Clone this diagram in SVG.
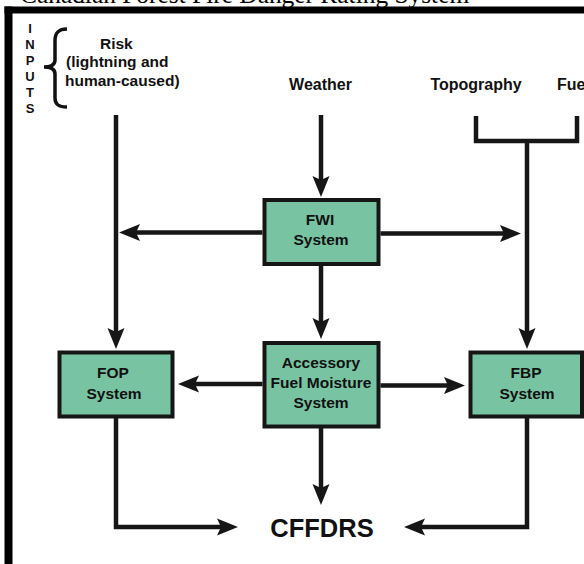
<svg xmlns="http://www.w3.org/2000/svg" width="584" height="564" viewBox="0 0 584 564">
<defs>
<style>
.t{font-family:"Liberation Sans",Arial,sans-serif;font-weight:bold;fill:#111;}
.in{font-size:15.5px;}
.hd{font-size:16px;}
.bx{font-size:15.5px;text-anchor:middle;}
.box{fill:#78C4A2;stroke:#161616;stroke-width:4;}
.ln{fill:none;stroke:#161616;stroke-width:4.5;}
.ar{marker-end:url(#ah);}
</style>
<marker id="ah" markerUnits="userSpaceOnUse" markerWidth="21" markerHeight="17" refX="11" refY="8.5" orient="auto" overflow="visible">
<path d="M21,8.5 L0,0 L4,8.5 L0,17 Z" fill="#161616"/>
</marker>
</defs>
<rect width="584" height="564" fill="#fff"/>
<text x="20" y="3" font-family="'Liberation Serif','Times New Roman',serif" font-size="25.4" fill="#000">Canadian Forest Fire Danger Rating System</text>
<g id="frame">
<rect x="4.5" y="6.5" width="579.5" height="7" fill="#000"/>
<rect x="4.5" y="6.5" width="8" height="557.5" fill="#000"/>
</g>
<g id="inputs">
<g class="t" font-size="13" text-anchor="middle">
<text x="30" y="33">I</text>
<text x="30" y="49">N</text>
<text x="30" y="65">P</text>
<text x="30" y="81">U</text>
<text x="30" y="97">T</text>
<text x="30" y="113">S</text>
</g>
<path d="M67,29 C58,29 55,33 55,41 L55,60 C55,64 52,67 44,67 C52,67 55,70 55,74 L55,98 C55,104 58,107 67,107" fill="none" stroke="#111" stroke-width="3.5"/>
</g>
<g id="risk">
<text class="t in" x="100" y="49">Risk</text>
<text class="t in" x="66" y="67">(lightning and</text>
<text class="t in" x="65" y="86">human-caused)</text>
</g>
<g id="weather"><text class="t hd" x="320.5" y="90" text-anchor="middle">Weather</text></g>
<g id="topography"><text class="t hd" x="476" y="90" text-anchor="middle">Topography</text></g>
<g id="fuel"><text class="t hd" x="557" y="90">Fue</text></g>
<g id="fwi">
<rect class="box" x="264.5" y="200" width="114" height="64"/>
<text class="t bx" x="320" y="225">FWI</text>
<text class="t bx" x="321" y="245">System</text>
</g>
<g id="afm">
<rect class="box" x="264.5" y="343" width="114" height="83.5"/>
<text class="t bx" x="321" y="368">Accessory</text>
<text class="t bx" x="321" y="388">Fuel Moisture</text>
<text class="t bx" x="321" y="408">System</text>
</g>
<g id="fop">
<rect class="box" x="59.5" y="352.5" width="113" height="64"/>
<text class="t bx" x="113" y="378">FOP</text>
<text class="t bx" x="114" y="399">System</text>
</g>
<g id="fbp">
<rect class="box" x="470.5" y="352.5" width="111.5" height="64"/>
<text class="t bx" x="526" y="378">FBP</text>
<text class="t bx" x="527" y="399">System</text>
</g>
<g id="cffdrs"><text class="t" x="322" y="536.5" font-size="25.5" text-anchor="middle">CFFDRS</text></g>
<g id="connectors">
<path class="ln" d="M476,116 V141 H577 V116"/>
<path class="ln ar" d="M116,115 V339"/>
<path class="ln ar" d="M321,115 V187"/>
<path class="ln ar" d="M527,141 V339"/>
<path class="ln ar" d="M262.5,232.5 H129"/>
<path class="ln ar" d="M380.5,233.5 H511"/>
<path class="ln ar" d="M321,266 V329"/>
<path class="ln ar" d="M262.5,384 H188"/>
<path class="ln ar" d="M380.5,385.5 H455"/>
<path class="ln ar" d="M116,418 V527 H228"/>
<path class="ln ar" d="M321,428 V495"/>
<path class="ln ar" d="M527,418 V527 H414"/>
</g>
</svg>
